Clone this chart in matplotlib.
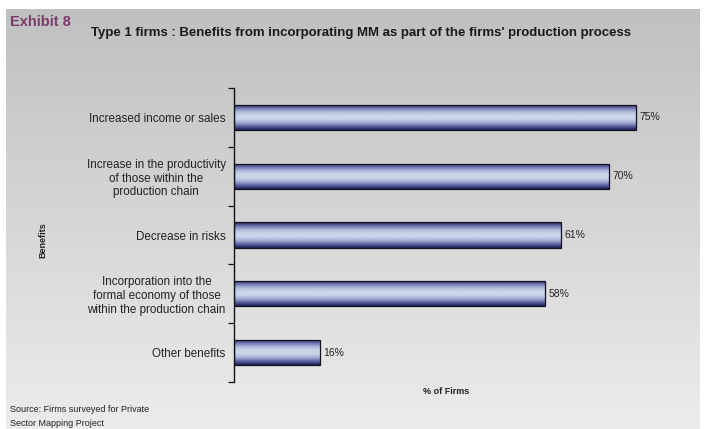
import numpy as np
import matplotlib
matplotlib.use("Agg")
import matplotlib.pyplot as plt
from matplotlib.colors import LinearSegmentedColormap

categories = [
    "Increased income or sales",
    "Increase in the productivity\nof those within the\nproduction chain",
    "Decrease in risks",
    "Incorporation into the\nformal economy of those\nwithin the production chain",
    "Other benefits",
]
shares = [75, 70, 61, 58, 16]
value_labels = ["75%", "70%", "61%", "58%", "16%"]

W, H = 704, 429
FONT = "Liberation Sans"
fig = plt.figure(figsize=(W / 100, H / 100), dpi=100, facecolor="white")

# grey panel with a soft top-to-bottom fade
bg = fig.add_axes([6 / W, 0, 694 / W, 420 / H])
bg.imshow(np.linspace(0, 1, 256).reshape(-1, 1),
          cmap=LinearSegmentedColormap.from_list("panel", ["#c0c0c0", "#d6d6d6", "#ececec"]),
          aspect="auto", extent=(0, 1, 0, 1), origin="upper")
bg.set_xlim(0, 1); bg.set_ylim(0, 1)
bg.axis("off")

fig.text(10 / W, 1 - 26 / H, "Exhibit 8", fontsize=10.5, fontweight="bold",
         color="#7b3a6c", family=FONT)
title = fig.text(91 / W, 1 - 36 / H,
                 "Type 1 firms : Benefits from incorporating MM as part of the firms' production process",
                 fontsize=10, fontweight="bold", color="#1a1a1a", family=FONT)
# shrink the title so it spans the same width as the chart heading block
renderer = fig.canvas.get_renderer()
tw = title.get_window_extent(renderer).width
title.set_fontsize(10 * 546 / tw)

ax = fig.add_axes([234 / W, 47 / H, (662.8 - 234) / W, 294 / H])
ax.set_facecolor("none")

ypos = np.arange(len(categories))
bar_h = 0.43
bars = ax.barh(ypos, shares, height=bar_h, facecolor="none",
               edgecolor="#111122", linewidth=0.9, zorder=3)

# cylinder shading: dark navy at the rims, pale blue through the middle
shade = LinearSegmentedColormap.from_list(
    "tube", ["#1c1c52", "#6a70ac", "#aab6d8", "#cad5ea", "#cad5ea", "#a4aed4", "#5c62a2", "#1c1c52"])
grad = np.linspace(0, 1, 128).reshape(-1, 1)
for bar, y, v in zip(bars, ypos, shares):
    im = ax.imshow(grad, cmap=shade, aspect="auto", zorder=2,
                   extent=(0, v, y + bar_h / 2, y - bar_h / 2), origin="upper")
    im.set_clip_path(bar)
ax.set_xlim(0, 80)
ax.set_ylim(len(categories) - 0.5, -0.5)

for y, v, lab in zip(ypos, shares, value_labels):
    ax.text(v + 0.6, y, lab, va="center", ha="left", fontsize=7.5,
            color="#222222", family=FONT)

ax.set_yticks(ypos)
ax.set_yticklabels(categories, fontsize=8.4, color="#222222", family=FONT,
                   ha="right", multialignment="center")
ax.tick_params(axis="y", which="major", length=0, pad=6)
ax.set_yticks(np.arange(-0.5, len(categories)), minor=True)
ax.tick_params(axis="y", which="minor", length=4, width=0.9, direction="out", color="#111111")
ax.set_xticks([])
for side in ("top", "right", "bottom"):
    ax.spines[side].set_visible(False)
ax.spines["left"].set_linewidth(1.0)
ax.spines["left"].set_color("#111111")

fig.text(43 / W, 1 - 240 / H, "Benefits", rotation=90, fontsize=6.5, fontweight="bold",
         ha="center", va="center", color="#222222", family=FONT)
fig.text(446 / W, 1 - 391 / H, "% of Firms", fontsize=6.5, fontweight="bold",
         ha="center", va="center", color="#222222", family=FONT)
fig.text(10 / W, 1 - 409 / H, "Source: Firms surveyed for Private", fontsize=6.5,
         va="center", color="#222222", family=FONT)
fig.text(10 / W, 1 - 423 / H, "Sector Mapping Project", fontsize=6.5,
         va="center", color="#222222", family=FONT)

fig.savefig("out.png", dpi=100, facecolor="white")
